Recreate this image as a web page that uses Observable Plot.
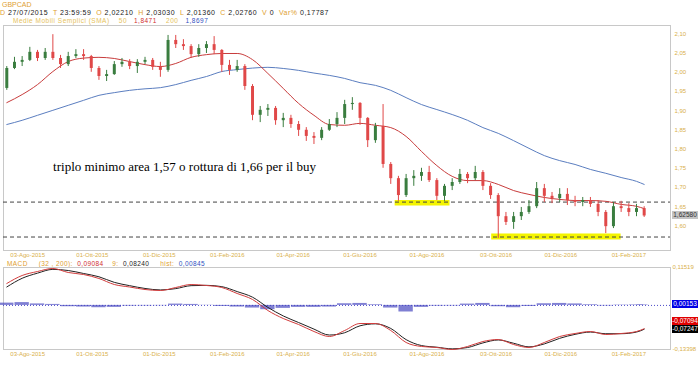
<!DOCTYPE html>
<html><head><meta charset="utf-8">
<script src="https://cdn.jsdelivr.net/npm/d3@7"></script>
<script src="https://cdn.jsdelivr.net/npm/@observablehq/plot@0.6"></script>
<style>
body{margin:0;background:#fff;font-family:"Liberation Sans",Arial,sans-serif;}
#wrap{position:relative;width:700px;height:365px;overflow:hidden;background:#fff;}
.abs{position:absolute;white-space:nowrap;}
.hdr{font-size:7px;line-height:7px;letter-spacing:0.5px;}
.o{color:#e0a030}.y{color:#e6c25a}.k{color:#222}.r{color:#d03030}.b{color:#3050c0}
.box{position:absolute;font-size:6.5px;line-height:8px;height:8px;width:26px;text-align:center;}
svg{overflow:visible}
</style></head>
<body><div id="wrap">
<div class="abs hdr o" style="left:2px;top:1px;letter-spacing:0">GBPCAD</div>
<div class="abs hdr" style="left:0px;top:9px"><span class="o">D</span> <span class="k">27/07/2015</span> &nbsp;<span class="o">T</span> <span class="k">23:59:59</span> &nbsp;<span class="o">O</span> <span class="k">2,02210</span> &nbsp;<span class="o">H</span> <span class="k">2,03030</span> &nbsp;<span class="o">L</span> <span class="k">2,01360</span> &nbsp;<span class="o">C</span> <span class="k">2,02760</span> &nbsp;<span class="o">V</span> <span class="k">0</span> &nbsp;<span class="o">Var%</span> <span class="k">0,17787</span></div>
<div class="abs hdr" style="left:13px;top:16.5px;font-size:6.5px;letter-spacing:0.5px"><span class="y">Medie Mobili Semplici (SMA)</span> &nbsp;&nbsp;&nbsp;<span class="y">50</span> &nbsp;&nbsp;<span class="r">1,8471</span> &nbsp;&nbsp;&nbsp;<span class="y">200</span> &nbsp;&nbsp;<span class="b">1,8697</span></div>
<div id="main" class="abs" style="left:0;top:0"></div>
<div class="abs hdr" style="left:7px;top:259.5px;font-size:6.5px;letter-spacing:0.4px"><span class="o">MACD</span> &nbsp;&nbsp;&nbsp;&nbsp;<span class="o">(32 , 200):</span> &nbsp;<span class="r">0,09084</span> &nbsp;&nbsp;&nbsp;<span class="o">9:</span> &nbsp;<span class="k">0,08240</span> &nbsp;&nbsp;&nbsp;&nbsp;<span class="o">hist:</span> &nbsp;<span class="b">0,00845</span></div>
<div id="macd" class="abs" style="left:0;top:260px"></div>
</div>
<script>
// ---------- data ----------
const weekStarts = d3.utcMonday.range(new Date("2015-07-13"), new Date("2017-02-14")); // weekly candles (84)
const open  = [1.958,2.010,2.026,2.031,2.052,2.036,2.052,2.036,2.020,2.041,2.046,2.041,2.010,1.989,1.994,2.020,2.026,2.015,2.026,2.031,2.013,2.005,2.083,2.072,2.067,2.046,2.062,2.072,2.057,2.018,2.005,2.015,1.963,1.888,1.901,1.906,1.874,1.880,1.864,1.849,1.833,1.828,1.849,1.864,1.880,1.916,1.919,1.880,1.822,1.859,1.760,1.723,1.679,1.723,1.729,1.739,1.718,1.677,1.703,1.713,1.734,1.723,1.739,1.703,1.679,1.624,1.609,1.624,1.635,1.650,1.697,1.677,1.671,1.682,1.666,1.661,1.666,1.656,1.635,1.598,1.650,1.645,1.635,1.645];
const high  = [2.015,2.039,2.041,2.065,2.057,2.062,2.098,2.044,2.052,2.059,2.059,2.044,2.015,2.005,2.028,2.036,2.033,2.033,2.039,2.036,2.026,2.096,2.096,2.085,2.072,2.072,2.080,2.093,2.059,2.031,2.031,2.020,1.968,1.911,1.916,1.911,1.893,1.888,1.872,1.856,1.843,1.856,1.877,1.895,1.927,1.934,1.921,1.882,1.867,1.916,1.765,1.729,1.734,1.744,1.750,1.755,1.723,1.708,1.723,1.747,1.739,1.755,1.744,1.710,1.684,1.635,1.635,1.648,1.666,1.713,1.708,1.687,1.697,1.697,1.677,1.674,1.674,1.666,1.640,1.661,1.664,1.658,1.656,1.650];
const low   = [1.953,2.007,2.015,2.028,2.028,2.031,2.031,2.010,2.015,2.036,2.031,2.000,1.979,1.976,1.992,2.013,2.007,1.997,2.020,2.005,1.987,2.000,2.062,2.057,2.036,2.039,2.049,2.046,2.000,1.992,2.000,1.953,1.874,1.869,1.885,1.862,1.856,1.854,1.833,1.820,1.812,1.822,1.846,1.856,1.864,1.901,1.862,1.804,1.815,1.750,1.708,1.664,1.674,1.703,1.716,1.713,1.666,1.664,1.692,1.708,1.710,1.718,1.692,1.669,1.567,1.601,1.591,1.614,1.630,1.645,1.661,1.658,1.661,1.653,1.650,1.650,1.648,1.624,1.580,1.593,1.635,1.624,1.624,1.622];
const close = [2.010,2.026,2.031,2.052,2.036,2.052,2.036,2.020,2.041,2.046,2.041,2.010,1.989,1.994,2.020,2.026,2.015,2.026,2.031,2.013,2.005,2.083,2.072,2.067,2.046,2.062,2.072,2.057,2.018,2.005,2.015,1.963,1.888,1.901,1.906,1.874,1.880,1.864,1.849,1.833,1.828,1.849,1.864,1.880,1.916,1.919,1.880,1.822,1.859,1.760,1.723,1.679,1.723,1.729,1.739,1.718,1.677,1.703,1.713,1.734,1.723,1.739,1.703,1.679,1.624,1.609,1.624,1.635,1.650,1.697,1.677,1.671,1.682,1.666,1.661,1.666,1.656,1.635,1.598,1.650,1.645,1.635,1.645,1.6258];

// indicator readings every second week (+ last week)
const ma50   = [1.921,1.942,1.968,2.002,2.028,2.037,2.039,2.036,2.028,2.020,2.015,2.023,2.039,2.046,2.049,2.049,2.033,1.997,1.958,1.919,1.888,1.864,1.862,1.867,1.862,1.856,1.833,1.794,1.757,1.729,1.718,1.718,1.708,1.692,1.682,1.674,1.669,1.666,1.666,1.664,1.656,1.651,1.645];
const ma200  = [1.864,1.875,1.888,1.901,1.914,1.927,1.940,1.947,1.953,1.957,1.960,1.968,1.979,1.989,2.002,2.007,2.011,2.013,2.010,2.005,1.998,1.992,1.984,1.973,1.966,1.953,1.934,1.916,1.903,1.890,1.875,1.856,1.841,1.822,1.802,1.783,1.770,1.760,1.747,1.737,1.726,1.716,1.708];
const macd   = [0.0666,0.0909,0.1030,0.1122,0.1000,0.0939,0.0818,0.0635,0.0559,0.0483,0.0453,0.0544,0.0635,0.0605,0.0544,0.0362,0.0180,-0.0155,-0.0398,-0.0580,-0.0793,-0.0945,-0.0762,-0.0550,-0.0550,-0.0762,-0.1127,-0.1248,-0.1279,-0.1340,-0.1248,-0.1097,-0.1036,-0.1188,-0.1279,-0.1127,-0.0945,-0.0854,-0.0793,-0.0884,-0.0854,-0.0793,-0.0709];
const signal = [0.0560,0.0824,0.0980,0.1095,0.1060,0.0970,0.0870,0.0700,0.0600,0.0515,0.0470,0.0510,0.0600,0.0610,0.0570,0.0420,0.0250,-0.0060,-0.0320,-0.0520,-0.0720,-0.0900,-0.0830,-0.0620,-0.0560,-0.0700,-0.1040,-0.1220,-0.1270,-0.1320,-0.1280,-0.1140,-0.1050,-0.1150,-0.1260,-0.1170,-0.1000,-0.0880,-0.0810,-0.0860,-0.0860,-0.0810,-0.0725];
const hist   = [0.0070,0.0085,0.0045,0.0030,-0.0040,-0.0050,-0.0070,-0.0060,-0.0020,-0.0015,-0.0010,0.0040,0.0030,0.0005,-0.0030,-0.0050,-0.0080,-0.0130,-0.0090,-0.0060,-0.0060,-0.0050,0.0050,0.0060,0.0020,-0.0080,-0.0200,-0.0060,-0.0020,-0.0015,0.0040,0.0060,-0.0040,-0.0070,-0.0030,0.0050,0.0060,0.0045,0.0020,-0.0015,0.0010,0.0015,0.0015];

const levels = [1.662, 1.571];
const zoneStart = ["2016-07-03", "2016-09-29"];
const zoneEnd   = ["2016-08-22", "2017-01-25"];
const zoneLo    = [1.6518, 1.5633];
const zoneHi    = [1.6661, 1.5789];
const noteText  = "triplo minimo area 1,57 o rottura di 1,66 per il buy";
const noteDate  = "2015-12-24";
const noteValue = 1.7534;

const tickDates  = ["2015-08-03","2015-10-01","2015-12-01","2016-02-01","2016-04-01","2016-06-01","2016-08-01","2016-10-03","2016-12-01","2017-02-01"];
const tickLabels = ["03-Ago-2015","01-Ott-2015","01-Dic-2015","01-Feb-2016","01-Apr-2016","01-Giu-2016","01-Ago-2016","03-Ott-2016","01-Dic-2016","01-Feb-2017"];
const priceTicks = [1.60,1.65,1.70,1.75,1.80,1.85,1.90,1.95,2.00,2.05,2.10];
const macdTicks  = [0.11519, -0.13398];
const lastPrice = 1.6258, lastHist = 0.00153, lastMacd = -0.07094, lastSignal = -0.07247;

// ---------- build ----------
const gold = "#d9b04a", upC = "#3a7d3f", dnC = "#e04848";
const mid = d => d3.utcDay.offset(d, 2);
const candles = weekStarts.map((d, i) => ({date: mid(d), open: open[i], high: high[i], low: low[i], close: close[i]}));
const indIdx = weekStarts.map((d, i) => i).filter(i => i % 2 === 0 || i === weekStarts.length - 1);
const ind = indIdx.map((i, j) => ({date: mid(weekStarts[i]), ma50: ma50[j], ma200: ma200[j], macd: macd[j], signal: signal[j], hist: hist[j], zero: 0,
  x1: d3.utcDay.offset(mid(weekStarts[i]), -7), x2: d3.utcDay.offset(mid(weekStarts[i]), i === weekStarts.length - 1 ? 4 : 7)}));
const zones = zoneStart.map((s, i) => ({start: new Date(s), end: new Date(zoneEnd[i]), lo: zoneLo[i], hi: zoneHi[i]}));
const labelMap = new Map(tickDates.map((d, i) => [+new Date(d), tickLabels[i]]));
const tickD = tickDates.map(d => new Date(d));
const xDomain = [new Date("2015-07-12"), new Date("2017-03-11")];
const comma = (v, n) => v.toFixed(n).replace(".", ",");
const colorOf = d => d.close >= d.open ? upC : dnC;

const main = Plot.plot({
  width: 700, height: 262, marginTop: 25, marginBottom: 12, marginLeft: 3, marginRight: 30,
  x: {type: "utc", domain: xDomain},
  y: {domain: [1.5359, 2.1219]},
  color: {type: "identity"},
  style: {background: "transparent", fontFamily: "Liberation Sans, Arial, sans-serif", overflow: "visible"},
  marks: [
    Plot.frame({stroke: "#c8c8c8"}),
    Plot.rect(zones, {x1: "start", x2: "end", y1: "lo", y2: "hi", fill: "#f4f400"}),
    Plot.ruleY(levels, {stroke: "#444", strokeDasharray: "4,3"}),
    Plot.line(ind, {x: "date", y: "ma200", stroke: "#5b7ec0", strokeWidth: 1, curve: "monotone-x"}),
    Plot.line(ind, {x: "date", y: "ma50", stroke: "#c83c3c", strokeWidth: 1, curve: "monotone-x"}),
    Plot.ruleX(candles, {x: "date", y1: "low", y2: "high", stroke: colorOf, strokeWidth: 1}),
    Plot.ruleX(candles, {x: "date", y1: "open", y2: "close", stroke: colorOf, strokeWidth: 3}),
    Plot.text([noteText], {x: () => new Date(noteDate), y: () => noteValue, text: d => d, fontFamily: "Liberation Serif, Times New Roman, serif", fontSize: 13, fill: "#000"}),
    Plot.axisY(priceTicks, {anchor: "right", tickSize: 0, tickPadding: 4, tickFormat: v => comma(v, 2), color: gold, fontSize: 6}),
    Plot.axisX(tickD, {anchor: "bottom", tickSize: 0, tickPadding: 2, tickFormat: d => labelMap.get(+d), color: gold, fontSize: 6})
  ]
});
document.getElementById("main").appendChild(main);

const macdPlot = Plot.plot({
  width: 700, height: 100, marginTop: 7, marginBottom: 11, marginLeft: 3, marginRight: 30,
  x: {type: "utc", domain: xDomain},
  y: {domain: [-0.13398, 0.11519]},
  color: {type: "identity"},
  style: {background: "transparent", fontFamily: "Liberation Sans, Arial, sans-serif", overflow: "visible"},
  marks: [
    Plot.frame({stroke: "#c8c8c8"}),
    Plot.ruleY([0], {stroke: "#4a4ac8", strokeDasharray: "1,2"}),
    Plot.rect(ind, {x1: "x1", x2: "x2", y1: "zero", y2: "hist", fill: "#4848c0", fillOpacity: 0.7, insetLeft: 0.5, insetRight: 0.5}),
    Plot.line(ind, {x: "date", y: "signal", stroke: "#222", strokeWidth: 1, curve: "monotone-x"}),
    Plot.line(ind, {x: "date", y: "macd", stroke: "#d23c3c", strokeWidth: 1, curve: "monotone-x"}),
    Plot.axisY(macdTicks, {anchor: "right", tickSize: 0, tickPadding: 2, tickFormat: v => comma(v, 5), color: gold, fontSize: 6}),
    Plot.axisX(tickD, {anchor: "bottom", tickSize: 0, tickPadding: 2, tickFormat: d => labelMap.get(+d), color: gold, fontSize: 6})
  ]
});
document.getElementById("macd").appendChild(macdPlot);

// value boxes placed with the plots' own scales
const wrap = document.getElementById("wrap");
function box(text, y, bg, fg) {
  const el = document.createElement("div");
  el.className = "box"; el.textContent = text;
  el.style.left = "672px"; el.style.top = (y - 4) + "px";
  el.style.background = bg; el.style.color = fg;
  wrap.appendChild(el);
}
box(comma(lastPrice, 5), main.scale("y").apply(lastPrice), "#c4c4c4", "#333");
const my = v => 260 + macdPlot.scale("y").apply(v);
box(comma(lastHist, 5), my(lastHist), "#0000e6", "#fff");
box(comma(lastMacd, 5), my(lastMacd) - 7.5, "#e00000", "#fff");
box(comma(lastSignal, 5), my(lastSignal) + 0.5, "#000", "#fff");
</script>
</body></html>
